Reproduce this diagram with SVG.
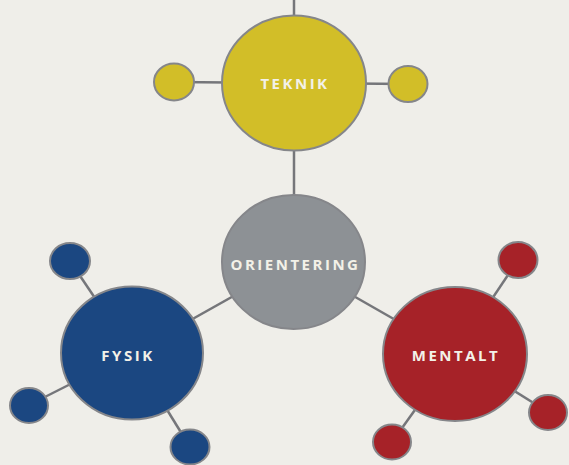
<svg xmlns="http://www.w3.org/2000/svg" width="569" height="465" viewBox="0 0 569 465">
  <style>
    .bg { fill: #efeee9; }
    .link { stroke: #75767a; stroke-width: 2.5; fill: none; }
    .node { stroke: #85868a; stroke-width: 2; }
    .yellow { fill: #d2be28; }
    .gray { fill: #8d9195; }
    .blue { fill: #1b4781; }
    .red { fill: #a62228; }
    .label { font-family: "Open Sans", "Liberation Sans", sans-serif; font-weight: 700; font-size: 15px; fill: #f3f1e8; text-anchor: middle; letter-spacing: 2.5px; }
  </style>
  <rect class="bg" x="0" y="0" width="569" height="465"/>

  <!-- connectors between hubs and satellites -->
  <g id="connectors">
    <line class="link" x1="294" y1="0" x2="294" y2="83"/>
    <line class="link" x1="174" y1="82" x2="294" y2="83"/>
    <line class="link" x1="294" y1="83" x2="408" y2="84"/>
    <line class="link" x1="294" y1="83" x2="294" y2="262"/>
    <line class="link" x1="294" y1="262" x2="132" y2="353"/>
    <line class="link" x1="294" y1="262" x2="455" y2="354"/>
    <line class="link" x1="70" y1="261" x2="132" y2="353"/>
    <line class="link" x1="29" y1="405" x2="132" y2="353"/>
    <line class="link" x1="190" y1="447" x2="132" y2="353"/>
    <line class="link" x1="518" y1="260" x2="455" y2="354"/>
    <line class="link" x1="548" y1="412" x2="455" y2="354"/>
    <line class="link" x1="392" y1="442" x2="455" y2="354"/>
  </g>

  <g id="teknik">
    <ellipse class="node yellow" cx="294" cy="83" rx="72" ry="67.5"/>
    <text class="label" x="295" y="88.5">TEKNIK</text>
  </g>
  <g id="teknik-left">
    <ellipse class="node yellow" cx="174" cy="82" rx="20" ry="18.5"/>
  </g>
  <g id="teknik-right">
    <ellipse class="node yellow" cx="408" cy="84" rx="19.5" ry="18"/>
  </g>

  <g id="orientering">
    <ellipse class="node gray" cx="293.5" cy="262" rx="71.5" ry="67"/>
    <text class="label" x="295.5" y="269.5">ORIENTERING</text>
  </g>

  <g id="fysik">
    <ellipse class="node blue" cx="132" cy="353" rx="71" ry="66.5"/>
    <text class="label" x="128" y="360.5">FYSIK</text>
  </g>
  <g id="fysik-top">
    <ellipse class="node blue" cx="70" cy="261" rx="20" ry="18"/>
  </g>
  <g id="fysik-left">
    <ellipse class="node blue" cx="29" cy="405.5" rx="19" ry="17.5"/>
  </g>
  <g id="fysik-bottom">
    <ellipse class="node blue" cx="190" cy="447" rx="19.5" ry="17.5"/>
  </g>

  <g id="mentalt">
    <ellipse class="node red" cx="455" cy="354" rx="72" ry="67"/>
    <text class="label" x="456" y="360.5">MENTALT</text>
  </g>
  <g id="mentalt-top">
    <ellipse class="node red" cx="518" cy="260" rx="19.5" ry="18"/>
  </g>
  <g id="mentalt-right">
    <ellipse class="node red" cx="548" cy="412.5" rx="19" ry="17.5"/>
  </g>
  <g id="mentalt-bottom">
    <ellipse class="node red" cx="392" cy="442" rx="19" ry="17.5"/>
  </g>
</svg>
